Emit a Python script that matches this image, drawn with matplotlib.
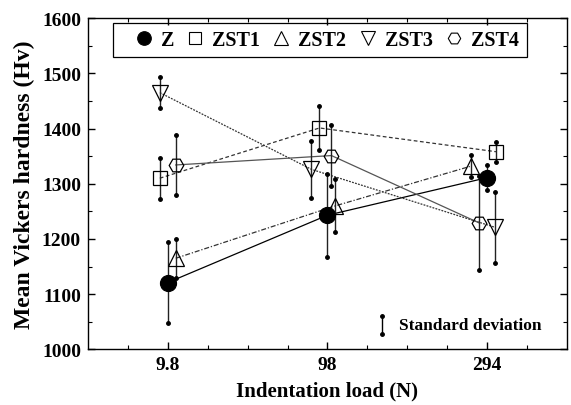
import matplotlib
matplotlib.use("Agg")
import matplotlib.pyplot as plt
from matplotlib.patches import Rectangle
import numpy as np

plt.rcParams['font.family'] = ['Liberation Serif', 'DejaVu Serif']
plt.rcParams['font.weight'] = 'bold'

loads = ['9.8', '98', '294']
series = ['Z', 'ZST1', 'ZST2', 'ZST3', 'ZST4']
Z_mean = [1121, 1243, 1311]
Z_sd = [73, 75, 23]
ZST1_mean = [1310, 1401, 1358]
ZST1_sd = [37, 40, 18]
ZST2_mean = [1165, 1260, 1332]
ZST2_sd = [35, 48, 20]
ZST3_mean = [1465, 1326, 1221]
ZST3_sd = [28, 52, 64]
ZST4_mean = [1334, 1351, 1229]
ZST4_sd = [54, 56, 85]

means = [Z_mean, ZST1_mean, ZST2_mean, ZST3_mean, ZST4_mean]
sds = [Z_sd, ZST1_sd, ZST2_sd, ZST3_sd, ZST4_sd]
# horizontal offsets to avoid overlap (layout)
offsets = [[0, 0, 0], [-0.05, -0.05, 0.055], [0.05, 0.05, -0.1],
           [-0.05, -0.1, 0.05], [0.05, 0.025, -0.05]]
markers = ['o', 's', '^', 'v', 'H']
msizes = [11.5, 9.5, 11.5, 11.5, 10.5]
faces = ['black', 'none', 'none', 'none', 'none']
lstyles = ['-', (0, (3, 2)), (0, (4, 1.5, 1, 1.5)), (0, (1.5, 1)), '-']
lcolors = ['black', '#333333', '#333333', '#333333', '#555555']

fig = plt.figure(figsize=(5.71, 4.06), dpi=100)
ax = fig.add_axes([0.154, 0.137, 0.839, 0.816])

x = np.arange(1, len(loads) + 1)
handles = []
for i, name in enumerate(series):
    xs = x + np.array(offsets[i])
    m = np.array(means[i])
    s = np.array(sds[i])
    ax.plot(xs, m, linestyle=lstyles[i], color=lcolors[i], lw=0.9, zorder=2)
    ax.vlines(xs, m - s, m + s, color='#222222', lw=1.0, zorder=3)
    ax.plot(xs, m + s, linestyle='none', marker='o', ms=2.5, color='black', zorder=3)
    ax.plot(xs, m - s, linestyle='none', marker='o', ms=2.5, color='black', zorder=3)
    ax.plot(xs, m, linestyle='none', marker=markers[i], ms=msizes[i],
            mfc=faces[i], mec='black', mew=0.9, zorder=4)
    h, = ax.plot([], [], linestyle='none', marker=markers[i], ms=msizes[i] * 0.85,
                 mfc=faces[i], mec='black', mew=0.8, label=name)
    handles.append(h)

# standard deviation key
ax.vlines([2.34], [1028], [1061], color='black', lw=1.0)
ax.plot([2.34, 2.34], [1028, 1061], linestyle='none', marker='o', ms=2.5, color='black')
ax.text(2.45, 1045, 'Standard deviation', fontsize=12.5, fontweight='bold', va='center', ha='left')

ax.set_xlim(0.5, 3.5)
ax.set_ylim(1000, 1600)
ax.set_xticks(x)
ax.set_xticklabels(loads)
ax.set_xticks(np.arange(0.75, 3.5, 0.25), minor=True)
ax.set_yticks(np.arange(1000, 1601, 100))
ax.set_yticks(np.arange(1050, 1600, 100), minor=True)
ax.tick_params(which='both', direction='in', top=True, right=True)
ax.tick_params(which='major', length=5, width=1, labelsize=14, pad=5)
ax.tick_params(which='minor', length=3, width=0.8)
for lab in ax.get_xticklabels() + ax.get_yticklabels():
    lab.set_fontweight('bold')
for sp in ax.spines.values():
    sp.set_linewidth(1.0)

ax.set_xlabel('Indentation load (N)', fontsize=15, fontweight='bold', labelpad=5)
ax.set_ylabel('Mean Vickers hardness (Hv)', fontsize=17, fontweight='bold', labelpad=5)

# legend frame
ax.add_patch(Rectangle((0.052, 0.882), 0.865, 0.103, transform=ax.transAxes,
                       fill=False, edgecolor='black', lw=0.9, zorder=5))
leg = ax.legend(handles=handles, loc='center left', bbox_to_anchor=(0.095, 0.934),
                ncol=5, frameon=False,
                prop={'weight': 'bold', 'size': 14.5}, handletextpad=0.35,
                columnspacing=0.55, handlelength=1.0, borderpad=0, borderaxespad=0)

fig.savefig('out.png', dpi=100)
